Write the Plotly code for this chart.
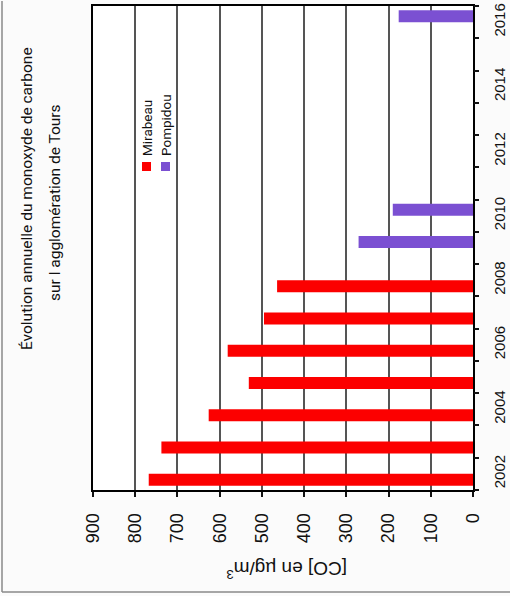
import plotly.graph_objects as go

# Annual CO concentration per monitoring station (µg/m³)
mirabeau_years = [2002, 2003, 2004, 2005, 2006, 2007, 2008]
mirabeau_values = [768, 738, 626, 531, 581, 495, 464]
pompidou_years = [2009, 2010, 2016]
pompidou_values = [271, 190, 176]

value_ticks = [0, 100, 200, 300, 400, 500, 600, 700, 800, 900]
year_ticks = [2002, 2004, 2006, 2008, 2010, 2012, 2014, 2016]
first_year, last_year = 2002, 2016

RED = "#fc0000"
PURPLE = "#7b50d2"
BAR_W = 0.37  # bar thickness in years; the two stations share each year slot

W, H = 510, 596
L, R, T, B = 93, 37, 6, 106
pw, ph = W - L - R, H - T - B


def px(x):
    return (x - L) / pw


def py(y):
    return (H - B - y) / ph


year_range = [first_year - 0.5, last_year + 0.5]
# tick marks sit on the boundaries between year slots
slot_edges = [first_year - 0.5 + i for i in range(last_year - first_year + 2)]

fig = go.Figure()
fig.add_trace(go.Bar(y=mirabeau_years, x=mirabeau_values, orientation="h",
                     name="Mirabeau", width=BAR_W, offset=-BAR_W,
                     marker=dict(color=RED, line=dict(width=0))))
fig.add_trace(go.Bar(y=pompidou_years, x=pompidou_values, orientation="h",
                     name="Pompidou", width=BAR_W, offset=0,
                     marker=dict(color=PURPLE, line=dict(width=0))))
# empty trace that carries the slot-boundary tick axis
fig.add_trace(go.Scatter(x=[], y=[], yaxis="y2", showlegend=False, hoverinfo="skip"))

fig.update_layout(
    width=W, height=H,
    margin=dict(l=L, r=R, t=T, b=B, pad=0),
    paper_bgcolor="#fbfbfb", plot_bgcolor="#ffffff",
    barmode="overlay",
    showlegend=False,
    font=dict(family="Liberation Sans, Arial, sans-serif", color="#111"),
    yaxis2=dict(overlaying="y", side="right", range=year_range,
                tickvals=slot_edges, ticks="outside", ticklen=5,
                tickwidth=1.5, tickcolor="#111", showticklabels=False,
                showgrid=False, zeroline=False, showline=False,
                automargin=False),
)

fig.update_xaxes(
    range=[900, 0], tickvals=value_ticks, tickangle=-90,
    ticks="outside", ticklen=5, tickwidth=1.5, tickcolor="#111",
    ticklabelstandoff=9,
    tickfont=dict(size=18, family="Liberation Sans, Arial, sans-serif"),
    showgrid=True, gridcolor="#555", gridwidth=1.5,
    showline=True, linecolor="#000", linewidth=2, mirror=True,
    zeroline=False, automargin=False,
)
fig.update_layout(yaxis=dict(
    range=year_range, side="right",
    tickvals=year_ticks, tickangle=-90, ticks="",
    ticklabelstandoff=12,
    tickfont=dict(size=15, family="Liberation Sans, Arial, sans-serif"),
    showgrid=False,
    showline=True, linecolor="#000", linewidth=2, mirror=True,
    zeroline=False, automargin=False,
))

title_font = dict(family="Roboto, Noto Sans, sans-serif", size=15.5, color="#111")
fig.add_annotation(text="Évolution annuelle du monoxyde de carbone",
                   xref="paper", yref="paper", x=px(27), y=py(199),
                   xanchor="center", yanchor="middle", textangle=-90,
                   showarrow=False, font=title_font)
fig.add_annotation(text="sur l agglomération de Tours",
                   xref="paper", yref="paper", x=px(55), y=py(203),
                   xanchor="center", yanchor="middle", textangle=-90,
                   showarrow=False, font=title_font)

# value axis title, drawn upside down
fig.add_annotation(text="[CO] en µg/m<sup>3</sup>",
                   xref="paper", yref="paper", x=px(287), y=py(570),
                   xanchor="center", yanchor="middle", textangle=180,
                   showarrow=False,
                   font=dict(family="Liberation Sans, Arial, sans-serif", size=19, color="#111"))

# legend drawn as rotated entries
legend_font = dict(family="Roboto, Noto Sans, sans-serif", size=13.5, color="#111")
for name, color, cx in [("Mirabeau", RED, 147), ("Pompidou", PURPLE, 166)]:
    fig.add_shape(type="rect", xref="paper", yref="paper",
                  x0=px(cx - 5), x1=px(cx + 4), y0=py(171), y1=py(162),
                  fillcolor=color, line=dict(width=0))
    fig.add_annotation(text=name, xref="paper", yref="paper",
                       x=px(cx), y=py(158), xanchor="center", yanchor="bottom",
                       textangle=-90, showarrow=False, font=legend_font)

# outer chart frame (left and bottom edges)
frame = dict(color="#8a8a8a", width=1.5)
fig.add_shape(type="line", xref="paper", yref="paper",
              x0=px(2), x1=px(2), y0=py(1), y1=py(592), line=frame)
fig.add_shape(type="line", xref="paper", yref="paper",
              x0=px(2), x1=px(510), y0=py(592), y1=py(592), line=frame)

fig.write_html("out.html")
